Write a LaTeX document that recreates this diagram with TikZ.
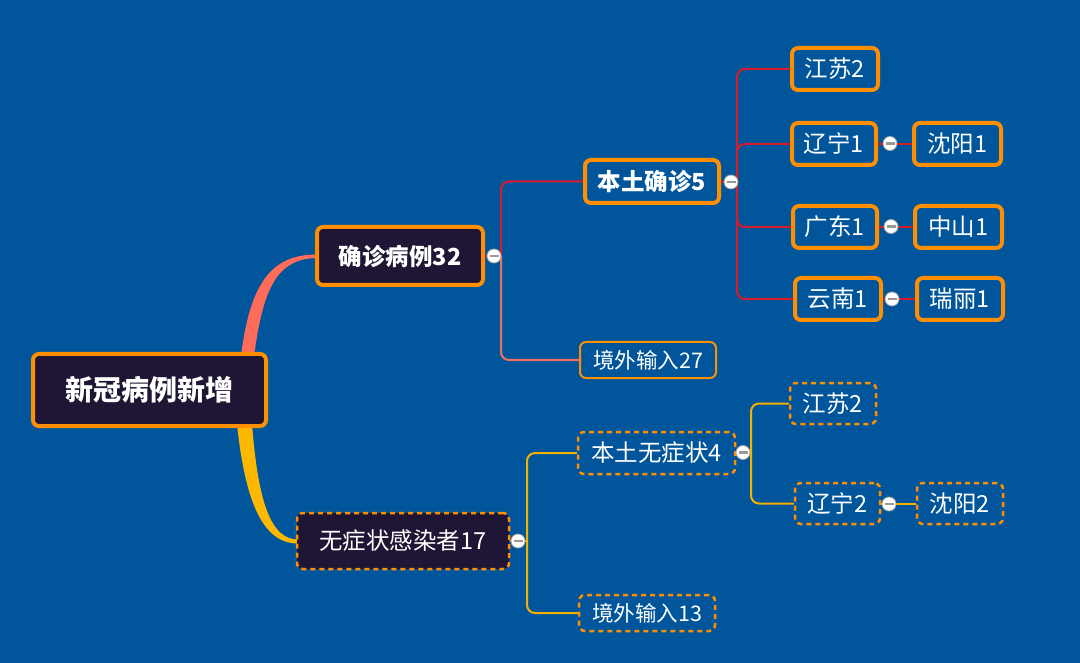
\documentclass[tikz,border=0pt]{standalone}
\usepackage{fontspec}
\setmainfont{Noto Sans CJK SC}
\definecolor{bg}{RGB}{1,86,155}
\definecolor{darkfill}{RGB}{31,21,52}
\definecolor{orng}{RGB}{255,143,0}
\definecolor{redl}{RGB}{212,28,44}
\definecolor{salmon}{RGB}{240,112,96}
\definecolor{coral}{RGB}{255,108,90}
\definecolor{yell}{RGB}{245,176,0}
\definecolor{yellthick}{RGB}{255,184,0}
\begin{document}
\begin{tikzpicture}[x=1pt,y=-1pt,
  base/.style={rounded corners=6pt, text=white, inner sep=0pt, align=center},
  rootbox/.style={base, fill=darkfill, draw=orng, line width=4pt, font=\fontsize{28}{28}\selectfont\bfseries},
  mainbox/.style={base, fill=darkfill, draw=orng, line width=4pt, font=\fontsize{23.5}{23.5}\selectfont\bfseries},
  mainbox2/.style={base, fill=darkfill, draw=orng, line width=2.5pt, dash pattern=on 5pt off 4pt, font=\fontsize{23.5}{23.5}\selectfont},
  subbox/.style={base, fill=bg, draw=orng, line width=4pt, font=\fontsize{23.5}{23.5}\selectfont},
  subboldbox/.style={subbox, font=\fontsize{23.5}{23.5}\selectfont\bfseries},
  thinbox/.style={base, fill=bg, draw=orng, line width=2pt, font=\fontsize{21.5}{21.5}\selectfont},
  dashbox/.style={base, fill=bg, draw=orng, line width=2.5pt, dash pattern=on 5pt off 4pt, font=\fontsize{23.5}{23.5}\selectfont},
  dashsmall/.style={dashbox, font=\fontsize{21.5}{21.5}\selectfont},
  conn/.style={line width=2pt, rounded corners=8pt},
  collapse/.style={circle, fill=white, draw=gray!70, line width=0.8pt, minimum size=14pt, inner sep=0pt,
    path picture={\draw[gray!80, line width=2.2pt] ([xshift=-4.5pt]path picture bounding box.center) -- ([xshift=4.5pt]path picture bounding box.center);}}
]
\fill[bg] (0,0) rectangle (1080,663);
\useasboundingbox (0,0) rectangle (1080,663);

% tapered main branches
\fill[coral] (241,356) .. controls (250,285) and (270,254) .. (318,254.5)
  -- (318,258) .. controls (276,258) and (263,290) .. (254,356) -- cycle;
\fill[yellthick] (237,424) .. controls (245,500) and (262,543.5) .. (298,543.5)
  -- (298,539.5) .. controls (270,539.5) and (258,500) .. (252,424) -- cycle;

% nodes
\node[rootbox, minimum width=233pt, minimum height=72pt] (root) at (149.5,390) {新冠病例新增};
\node[mainbox, minimum width=166pt, minimum height=58pt] (qz) at (400,256) {确诊病例32};
\node[mainbox2, minimum width=212pt, minimum height=56pt] (wz) at (403,541) {无症状感染者17};

\node[subboldbox, minimum width=134pt, minimum height=43pt] (bt) at (652,181.5) {本土确诊5};
\node[thinbox, minimum width=136pt, minimum height=36pt] (jw1) at (648,360) {境外输入27};

\node[subbox, minimum width=86pt, minimum height=42pt] (js1) at (835,69) {江苏2};
\node[subbox, minimum width=84pt, minimum height=42pt] (ln1) at (834,144) {辽宁1};
\node[subbox, minimum width=87pt, minimum height=42pt] (sy1) at (957.5,144) {沈阳1};
\node[subbox, minimum width=84pt, minimum height=42pt] (gd1) at (835,227) {广东1};
\node[subbox, minimum width=87pt, minimum height=42pt] (zs1) at (958.5,227) {中山1};
\node[subbox, minimum width=86pt, minimum height=42pt] (yn1) at (838,299) {云南1};
\node[subbox, minimum width=86pt, minimum height=42pt] (rl1) at (960,299) {瑞丽1};

\node[dashbox, minimum width=157pt, minimum height=42pt] (bw) at (656.5,453) {本土无症状4};
\node[dashbox, minimum width=86pt, minimum height=41pt] (js2) at (833,403.5) {江苏2};
\node[dashbox, minimum width=85pt, minimum height=41pt] (ln2) at (837.5,503.5) {辽宁2};
\node[dashbox, minimum width=86pt, minimum height=41pt] (sy2) at (960,503.5) {沈阳2};
\node[dashsmall, minimum width=136pt, minimum height=36pt] (jw2) at (647,613) {境外输入13};

% junction coordinates
\coordinate (qzj) at (501,256);
\coordinate (btj) at (737,182);
\coordinate (wzj) at (527,541);
\coordinate (bwj) at (751,453);

% connectors (group 1)
\draw[conn, redl] (qzj) |- (bt.west);
\draw[conn, salmon] (qzj) |- (jw1.west);
\draw[line width=2pt, redl] (qz.east) -- (qzj);
\draw[conn, redl] (btj) |- (js1.west);
\draw[conn, redl] (btj) |- (ln1.west);
\draw[conn, redl] (btj) |- (gd1.west);
\draw[conn, redl] (btj) |- (yn1.west);
\draw[line width=2pt, redl] (bt.east) -- (btj);
\draw[line width=2pt, redl] (ln1.east) -- (sy1.west);
\draw[line width=2pt, redl] (gd1.east) -- (zs1.west);
\draw[line width=2pt, redl] (yn1.east) -- (rl1.west);

% connectors (group 2)
\draw[conn, yell] (wzj) |- (bw.west);
\draw[conn, yell] (wzj) |- (jw2.west);
\draw[line width=2pt, yell] (wz.east) -- (wzj);
\draw[conn, yell] (bwj) |- (js2.west);
\draw[conn, yell] (bwj) |- (ln2.west);
\draw[line width=2pt, yell] (bw.east) -- (bwj);
\draw[line width=2pt, yell] (ln2.east) -- (sy2.west);

% collapse markers
\node[collapse] (c1) at (494,256) {};
\node[collapse] (c2) at (731,182) {};
\node[collapse] (c3) at (890,143.5) {};
\node[collapse] (c4) at (891,226.5) {};
\node[collapse] (c5) at (892,299) {};
\node[collapse] (c6) at (518,541) {};
\node[collapse] (c7) at (743,452.5) {};
\node[collapse] (c8) at (889,504) {};
\end{tikzpicture}
\end{document}
